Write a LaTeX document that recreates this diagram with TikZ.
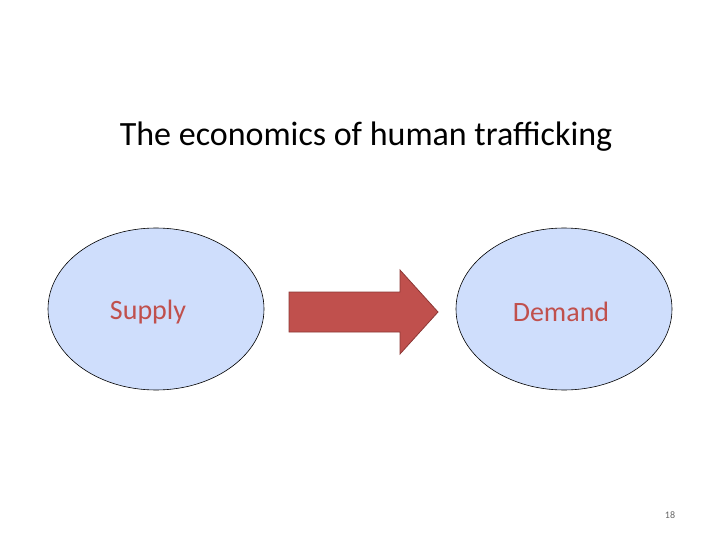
\documentclass[tikz,border=0pt]{standalone}
\usepackage{fontspec}
\setmainfont{Carlito}
\usetikzlibrary{shapes.geometric}
\definecolor{ellfill}{RGB}{207,222,252}
\definecolor{redtxt}{RGB}{192,80,77}
\definecolor{redline}{RGB}{140,56,54}
\tikzset{oval/.style={ellipse,draw=black,line width=0.6pt,fill=ellfill,minimum width=216pt,minimum height=162pt,inner sep=0pt},
lbl/.style={text=redtxt,font=\fontsize{28}{30}\selectfont}}
\begin{document}
\begin{tikzpicture}[x=1pt,y=-1pt]
\useasboundingbox (0,0) rectangle (720,540);
\node[font=\fontsize{34}{38}\selectfont] (title) at (366,137) {The economics of human trafficking};
\node[oval] (sup) at (156,309) {};
\node[lbl] (supt) at (148,312) {Supply};
\node[oval] (dem) at (564,309) {};
\node[lbl] (demt) at (561,312) {Demand};
\draw[fill=redtxt,draw=redline,line width=0.8pt] (289,292) -- (400,292) -- (400,270) -- (438,312) -- (400,354) -- (400,332) -- (289,332) -- cycle;
\node[font=\fontsize{10}{12}\selectfont,text=black!60] (pg) at (670,515) {18};
\end{tikzpicture}
\end{document}
